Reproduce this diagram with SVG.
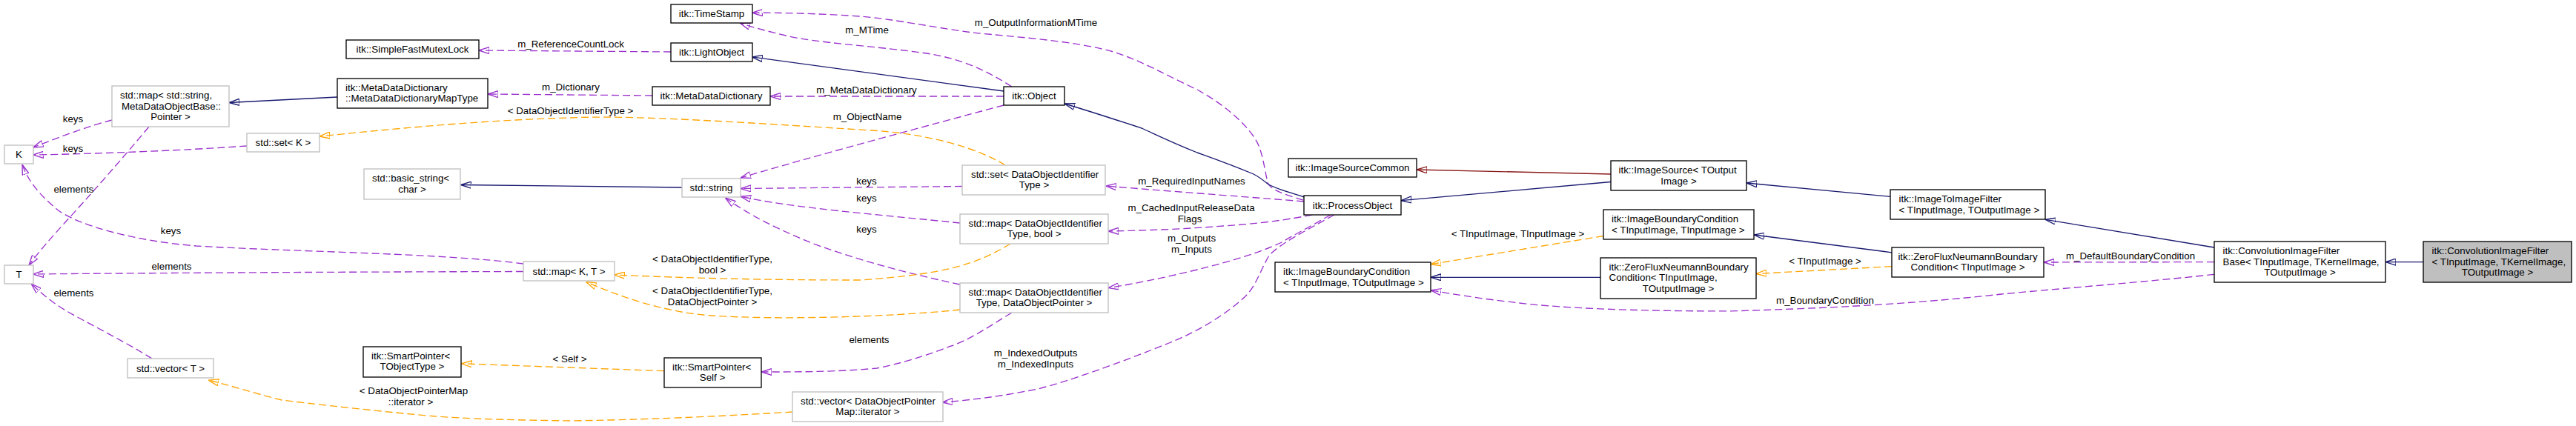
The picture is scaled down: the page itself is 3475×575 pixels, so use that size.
<svg xmlns="http://www.w3.org/2000/svg" width="3475" height="575" viewBox="0 0 3475 575">
<style>
text{font-family:"Liberation Sans",Arial,Helvetica,sans-serif;font-size:13.33px;fill:#000}
.m{text-anchor:middle}
.s{text-anchor:start}
rect.d{fill:#fff;stroke:#000;stroke-width:1.33}
rect.u{fill:#fff;stroke:#bfbfbf;stroke-width:1.33}
rect.g{fill:#bfbfbf;stroke:#000;stroke-width:1.33}
path{fill:none;stroke-width:1.33}
.b{stroke:#191970;marker-end:url(#ab)}
.r{stroke:#8b1a1a;marker-end:url(#ar)}
.p{stroke:#9a32cd;stroke-dasharray:10,5;marker-end:url(#ap)}
.o{stroke:#ffa500;stroke-dasharray:10,5;marker-end:url(#ao)}
</style>
<defs>
<marker id="ab" viewBox="0 0 14 10" refX="14" refY="5" markerWidth="14" markerHeight="10" markerUnits="userSpaceOnUse" orient="auto"><path d="M0,0.5L14,5L0,9.5z" fill="#191970" stroke="#191970" stroke-width="1"/></marker>
<marker id="ar" viewBox="0 0 14 10" refX="14" refY="5" markerWidth="14" markerHeight="10" markerUnits="userSpaceOnUse" orient="auto"><path d="M0,0.5L14,5L0,9.5z" fill="#8b1a1a" stroke="#8b1a1a" stroke-width="1"/></marker>
<marker id="ap" viewBox="0 0 14 10" refX="14" refY="5" markerWidth="14" markerHeight="10" markerUnits="userSpaceOnUse" orient="auto"><path d="M0,0.5L14,5L0,9.5z" fill="#9a32cd" stroke="#9a32cd" stroke-width="1"/></marker>
<marker id="ao" viewBox="0 0 14 10" refX="14" refY="5" markerWidth="14" markerHeight="10" markerUnits="userSpaceOnUse" orient="auto"><path d="M0,0.5L14,5L0,9.5z" fill="#ffa500" stroke="#ffa500" stroke-width="1"/></marker>
</defs>
<rect width="3475" height="575" fill="#fff"/>
<g id="edges">
<path class="p" d="M151,162 C120,170 80,185 44.5,199"/>
<path class="p" d="M333,197 C250,203 120,208 44.5,209"/>
<path class="p" d="M201,171 C160,220 120,265 88,300 C70,320 52,340 39,358"/>
<path class="p" d="M706,356 C600,342 400,340 265,332 C180,325 110,305 80,285 C55,265 38,245 30,222"/>
<path class="p" d="M706,366.5 C500,367 250,368 44.5,370"/>
<path class="p" d="M205,484 C170,462 120,437 90,420 C70,408 55,395 42,383"/>
<path class="b" d="M455,131 L309,138.5"/>
<path class="o" d="M1356,223 C1320,200 1250,180 1175,176 C1000,165 850,155 770,159 C650,162 520,175 431,184"/>
<path class="p" d="M880,129 L658,127"/>
<path class="p" d="M905,70 L646,68"/>
<path class="p" d="M1365,117 C1330,95 1300,80 1250,72 C1180,62 1100,58 1060,48 C1035,42 1015,37 998,31"/>
<path class="b" d="M1354,123 L1014.5,77"/>
<path class="p" d="M1354,130 L1039,130"/>
<path class="p" d="M1354,142 C1250,170 1100,210 999,240"/>
<path class="b" d="M920,253 L621.5,249.5"/>
<path class="p" d="M1298,251.5 L999,254.5"/>
<path class="p" d="M1295,301 C1200,291 1060,280 999,265"/>
<path class="p" d="M1295,384 C1230,370 1170,355 1100,330 C1050,310 1010,290 978.5,267"/>
<path class="o" d="M1363,329 C1320,355 1280,370 1160,378 C1000,378 900,374 828.6,371"/>
<path class="o" d="M1295,418 C1200,428 1050,432 960,426 C900,422 840,402 790.6,380.5"/>
<path class="p" d="M1365,422 C1335,440 1310,458 1283,467 C1250,480 1210,492 1183,497 C1130,502 1080,502 1027,502"/>
<path class="o" d="M895.7,500.7 L622.5,490.8"/>
<path class="o" d="M1069,556 C1000,560 900,566 770,568 C700,567 640,566 580,561.4 C500,554 420,545 380,540 C340,530 310,520 281,513"/>
<path class="p" d="M1800,290 C1760,312 1725,330 1712,345 C1700,365 1695,385 1680,400 C1650,428 1610,450 1577,463 C1510,490 1440,515 1400,525 C1350,535 1310,540 1271,543"/>
<path class="p" d="M1795,290 C1760,310 1740,320 1729,327 C1690,345 1650,355 1615,364 C1570,375 1530,383 1495,388.6"/>
<path class="p" d="M1770,290 C1740,296 1700,302 1650,305 C1600,309 1550,311 1495,312"/>
<path class="p" d="M1759,272 C1700,267 1600,260 1491.7,251"/>
<path class="p" d="M1758,270 C1730,262 1712,255 1710,246 C1705,225 1703,200 1691,184 C1670,155 1640,135 1615,121 C1570,100 1540,82 1502,70 C1450,55 1370,50 1312,44 C1260,37 1200,25 1160,22 C1100,18 1050,17 1014.5,17.3"/>
<path class="b" d="M1759,266 C1735,258 1718,254 1710,248 C1700,240 1695,237 1691,235 C1660,222 1640,215 1615,206 C1580,192 1560,182 1540,173 C1500,160 1470,150 1436,140"/>
<path class="r" d="M2173,235 L1911,229"/>
<path class="b" d="M2173,245.5 L1890,270.7"/>
<path class="b" d="M2550,265.4 L2356,247"/>
<path class="b" d="M2987,334 L2759,296.3"/>
<path class="b" d="M2552,340.8 L2366,317"/>
<path class="o" d="M2163,318.5 L1930,356.7"/>
<path class="b" d="M2159,374.3 L1930,374.3"/>
<path class="o" d="M2552,359.6 L2369,369.5"/>
<path class="p" d="M2987,353.6 L2757,354"/>
<path class="p" d="M2987,370.4 C2900,380 2750,392 2700,397 C2600,408 2500,415 2335,419.9 C2200,420 2100,416 2033,407 C1990,402 1960,397 1930,391.7"/>
<path class="b" d="M3269,353.6 L3218,353.6"/>
<g id="edge-labels">
<text class="m" x="98.5" y="164.5">keys</text>
<text class="m" x="98.5" y="205">keys</text>
<text class="m" x="99.5" y="259.5">elements</text>
<text class="m" x="230.5" y="316">keys</text>
<text class="m" x="231.5" y="364">elements</text>
<text class="m" x="99.5" y="400">elements</text>
<text class="m" x="770" y="63.5">m_ReferenceCountLock</text>
<text class="m" x="770" y="121.5">m_Dictionary</text>
<text class="m" x="769.5" y="153.5">&lt; DataObjectIdentifierType &gt;</text>
<text class="m" x="1169.5" y="45">m_MTime</text>
<text class="m" x="1169" y="125.5">m_MetaDataDictionary</text>
<text class="m" x="1170" y="161.5">m_ObjectName</text>
<text class="m" x="1169" y="248.5">keys</text>
<text class="m" x="1169" y="271.5">keys</text>
<text class="m" x="1169" y="314">keys</text>
<text class="m" x="961" y="354">&lt; DataObjectIdentifierType,</text>
<text class="m" x="961" y="369">bool &gt;</text>
<text class="m" x="961" y="397">&lt; DataObjectIdentifierType,</text>
<text class="m" x="961" y="412">DataObjectPointer &gt;</text>
<text class="m" x="768.5" y="488.5">&lt; Self &gt;</text>
<text class="m" x="1172.5" y="463">elements</text>
<text class="m" x="558" y="532">&lt; DataObjectPointerMap</text>
<text class="m" x="554" y="546.5">::iterator &gt;</text>
<text class="m" x="1397" y="481">m_IndexedOutputs</text>
<text class="m" x="1397" y="496">m_IndexedInputs</text>
<text class="m" x="1397.5" y="35">m_OutputInformationMTime</text>
<text class="m" x="1607.5" y="248.5">m_RequiredInputNames</text>
<text class="m" x="1607" y="285">m_CachedInputReleaseData</text>
<text class="m" x="1605" y="300">Flags</text>
<text class="m" x="1607.5" y="326">m_Outputs</text>
<text class="m" x="1607.5" y="341">m_Inputs</text>
<text class="m" x="2047.5" y="320">&lt; TInputImage, TInputImage &gt;</text>
<text class="m" x="2462" y="357">&lt; TInputImage &gt;</text>
<text class="m" x="2874" y="350">m_DefaultBoundaryCondition</text>
<text class="m" x="2462" y="410">m_BoundaryCondition</text>
</g>
</g>
<g id="n_K"><rect class="u" x="6" y="196" width="39" height="25"/><text class="m" x="25.5" y="213">K</text></g>
<g id="n_T"><rect class="u" x="6" y="358" width="39" height="25"/><text class="m" x="25.5" y="375">T</text></g>
<g id="n_mapstr"><rect class="u" x="151" y="116" width="158" height="55"/><text class="s" x="162" y="133">std::map&lt; std::string,</text><text class="m" x="231" y="147.5">MetaDataObjectBase::</text><text class="m" x="230" y="162">Pointer &gt;</text></g>
<g id="n_setK"><rect class="u" x="333" y="180" width="98" height="25"/><text class="m" x="382" y="197">std::set&lt; K &gt;</text></g>
<g id="n_vecT"><rect class="u" x="172" y="484" width="116" height="26"/><text class="m" x="230" y="501.5">std::vector&lt; T &gt;</text></g>
<g id="n_mutex"><rect class="d" x="467" y="54" width="179" height="25"/><text class="m" x="556.5" y="71">itk::SimpleFastMutexLock</text></g>
<g id="n_mdmt"><rect class="d" x="455" y="106" width="203" height="40"/><text class="s" x="466" y="122.5">itk::MetaDataDictionary</text><text class="s" x="466" y="137">::MetaDataDictionaryMapType</text></g>
<g id="n_bstr"><rect class="u" x="491" y="228" width="130" height="41"/><text class="s" x="502" y="245">std::basic_string&lt;</text><text class="m" x="556" y="259.5">char &gt;</text></g>
<g id="n_spTO"><rect class="d" x="490" y="468" width="132" height="41"/><text class="s" x="501" y="484.5">itk::SmartPointer&lt;</text><text class="m" x="556" y="499">TObjectType &gt;</text></g>
<g id="n_ts"><rect class="d" x="905" y="6" width="110" height="25"/><text class="m" x="960" y="23">itk::TimeStamp</text></g>
<g id="n_lo"><rect class="d" x="905" y="58" width="110" height="25"/><text class="m" x="960" y="75">itk::LightObject</text></g>
<g id="n_mdd"><rect class="d" x="880" y="117" width="159" height="25"/><text class="m" x="959.5" y="134">itk::MetaDataDictionary</text></g>
<g id="n_str"><rect class="u" x="920" y="241" width="79" height="25"/><text class="m" x="959.5" y="258">std::string</text></g>
<g id="n_mapKT"><rect class="u" x="706" y="353" width="123" height="26"/><text class="m" x="767.5" y="370.5">std::map&lt; K, T &gt;</text></g>
<g id="n_spS"><rect class="d" x="896" y="483" width="131" height="40"/><text class="s" x="907" y="499.5">itk::SmartPointer&lt;</text><text class="m" x="961" y="514">Self &gt;</text></g>
<g id="n_vecD"><rect class="u" x="1069" y="529" width="203" height="40"/><text class="s" x="1080" y="545.5">std::vector&lt; DataObjectPointer</text><text class="m" x="1170.5" y="560">Map::iterator &gt;</text></g>
<g id="n_obj"><rect class="d" x="1354" y="117" width="82" height="25"/><text class="m" x="1395" y="134">itk::Object</text></g>
<g id="n_setD"><rect class="u" x="1298" y="223" width="193" height="40"/><text class="s" x="1310" y="239.5">std::set&lt; DataObjectIdentifier</text><text class="m" x="1395" y="254">Type &gt;</text></g>
<g id="n_mapB"><rect class="u" x="1295" y="289" width="200" height="40"/><text class="s" x="1306.5" y="305.5">std::map&lt; DataObjectIdentifier</text><text class="m" x="1395" y="320">Type, bool &gt;</text></g>
<g id="n_mapD"><rect class="u" x="1295" y="382" width="200" height="40"/><text class="s" x="1306.5" y="398.5">std::map&lt; DataObjectIdentifier</text><text class="m" x="1395" y="413">Type, DataObjectPointer &gt;</text></g>
<g id="n_isc"><rect class="d" x="1738" y="214" width="173" height="25"/><text class="m" x="1824.5" y="231">itk::ImageSourceCommon</text></g>
<g id="n_po"><rect class="d" x="1759" y="264" width="131" height="26"/><text class="m" x="1824.5" y="281.5">itk::ProcessObject</text></g>
<g id="n_ibcTO"><rect class="d" x="1720" y="354" width="210" height="40"/><text class="s" x="1731" y="371">itk::ImageBoundaryCondition</text><text class="s" x="1731" y="385.5">&lt; TInputImage, TOutputImage &gt;</text></g>
<g id="n_is"><rect class="d" x="2173" y="217" width="183" height="40"/><text class="s" x="2183.5" y="234">itk::ImageSource&lt; TOutput</text><text class="m" x="2264.5" y="248.5">Image &gt;</text></g>
<g id="n_ibcTI"><rect class="d" x="2163" y="283" width="203" height="40"/><text class="s" x="2174" y="300">itk::ImageBoundaryCondition</text><text class="s" x="2174" y="314.5">&lt; TInputImage, TInputImage &gt;</text></g>
<g id="n_zfTO"><rect class="d" x="2159" y="348" width="210" height="55"/><text class="s" x="2170.5" y="364.5">itk::ZeroFluxNeumannBoundary</text><text class="s" x="2170.5" y="379">Condition&lt; TInputImage,</text><text class="m" x="2264" y="394">TOutputImage &gt;</text></g>
<g id="n_i2i"><rect class="d" x="2550" y="256" width="209" height="40"/><text class="s" x="2561.5" y="273">itk::ImageToImageFilter</text><text class="s" x="2561.5" y="287.5">&lt; TInputImage, TOutputImage &gt;</text></g>
<g id="n_zfTI"><rect class="d" x="2552" y="334" width="205" height="40"/><text class="m" x="2654.5" y="350.5">itk::ZeroFluxNeumannBoundary</text><text class="m" x="2654.5" y="365">Condition&lt; TInputImage &gt;</text></g>
<g id="n_cb"><rect class="d" x="2987" y="326" width="231" height="55"/><text class="s" x="2998.5" y="342.5">itk::ConvolutionImageFilter</text><text class="s" x="2998.5" y="357.5">Base&lt; TInputImage, TKernelImage,</text><text class="m" x="3102.5" y="371.5">TOutputImage &gt;</text></g>
<g id="n_c"><rect class="g" x="3269" y="326" width="200" height="55"/><text class="s" x="3280.5" y="342.5">itk::ConvolutionImageFilter</text><text class="s" x="3280.5" y="357.5">&lt; TInputImage, TKernelImage,</text><text class="m" x="3369" y="371.5">TOutputImage &gt;</text></g>
</svg>
